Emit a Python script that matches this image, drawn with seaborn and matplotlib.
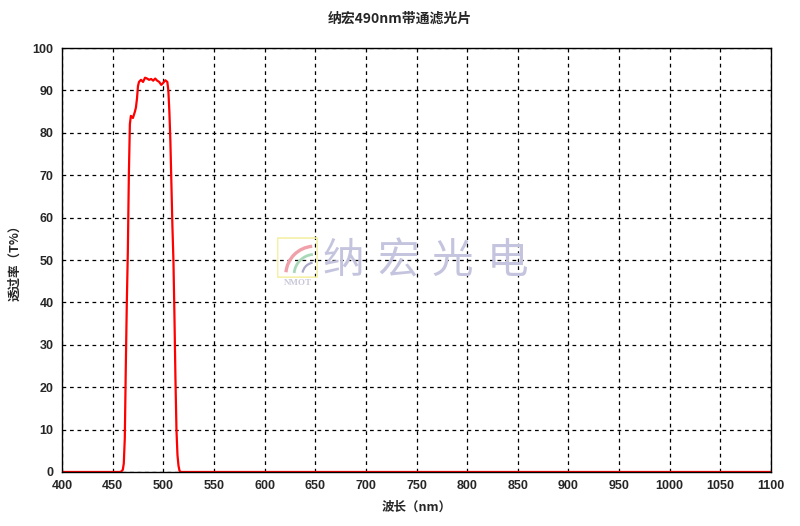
import matplotlib
matplotlib.use("Agg")
import matplotlib.pyplot as plt
import matplotlib.patches as mpatches
import seaborn as sns
import pandas as pd

# transmission curve
wavelength = [400, 450, 458, 460, 461, 462, 463, 464, 465, 466, 467, 468, 470, 472, 473,
              474, 475, 476, 478, 480, 482, 484, 486, 488, 490, 492, 494, 496, 498,
              500, 502, 504, 505, 506, 507, 508, 509, 510, 511, 512, 513, 514, 515,
              516, 517, 520, 600, 800, 1000, 1100]
transmit = [0, 0, 0, 0.5, 2, 8, 25, 40, 52, 70, 82, 84, 83.5, 85, 86,
            88, 91, 92, 92.5, 92, 93, 92.8, 92.5, 92.7, 92.3, 92.8, 92.3, 92, 91.3,
            91.8, 92.4, 92, 90, 85, 78, 68, 58, 50, 37, 22, 10, 4, 1.5,
            0.3, 0, 0, 0, 0, 0, 0]

x_ticks = list(range(400, 1101, 50))
y_ticks = list(range(0, 101, 10))

title = "纳宏490nm带通滤光片"
x_label = "波长（nm）"
y_label = "透过率（T%）"
watermark = "纳宏光电"

df = pd.DataFrame({"wavelength": wavelength, "T": transmit})

sns.set_style("white")
cjk = ["Noto Sans CJK SC", "DejaVu Sans"]

fig = plt.figure(figsize=(8, 5.26), dpi=100)
ax = fig.add_axes([0.0775, 0.1027, 0.8863, 0.806])

sns.lineplot(data=df, x="wavelength", y="T", color="#ff0000", linewidth=1.6, ax=ax)

ax.set_xlim(400, 1100)
ax.set_ylim(0, 100)
ax.set_xticks(x_ticks)
ax.set_yticks(y_ticks)
ax.grid(True, color="black", linestyle=(0, (3, 3)), linewidth=0.9)
for sp in ax.spines.values():
    sp.set_color("black")
    sp.set_linewidth(1.0)
ax.tick_params(length=0, pad=6)
for lab in ax.get_xticklabels() + ax.get_yticklabels():
    lab.set_family("Liberation Sans")
    lab.set_fontweight("bold")
    lab.set_fontsize(9)

ax.set_xlabel(x_label, family=cjk, fontsize=9, fontweight="bold", labelpad=6)
ax.set_ylabel(y_label, family=cjk, fontsize=9, fontweight="bold", labelpad=8)
fig.text(0.5, 0.965, title, family=cjk, fontsize=10, fontweight="bold", ha="center", va="center")

# watermark text, one glyph at a time with wide spacing
for i, ch in enumerate(watermark):
    fig.text(0.429 + i * 0.0685, 0.502, ch, family=cjk, fontsize=30, color="#c4c4de",
             ha="center", va="center")

# small logo: yellow box with signal arcs and NMOT
logo = fig.add_axes([0.346, 0.4715, 0.0515, 0.0775])
logo.set_xlim(0, 1)
logo.set_ylim(0, 1)
logo.axis("off")
logo.add_patch(mpatches.FancyBboxPatch((0.03, 0.03), 0.94, 0.94, boxstyle="round,pad=0.01",
                                       fill=False, edgecolor="#f4f0a8", linewidth=1.2))
logo.add_patch(mpatches.Arc((0.92, 0.08), 1.4, 1.4, theta1=95, theta2=175, color="#f0a0a8", lw=2.4))
logo.add_patch(mpatches.Arc((0.92, 0.08), 1.0, 1.0, theta1=95, theta2=175, color="#a8d8b8", lw=2.0))
logo.add_patch(mpatches.Arc((0.92, 0.08), 0.6, 0.6, theta1=100, theta2=170, color="#a8a8c8", lw=1.6))
fig.text(0.372, 0.462, "NMOT", family="Liberation Serif", fontsize=6.5, fontweight="bold",
         color="#c8c8d8", ha="center", va="center")

plt.savefig("out.png", dpi=100)
plt.close()
